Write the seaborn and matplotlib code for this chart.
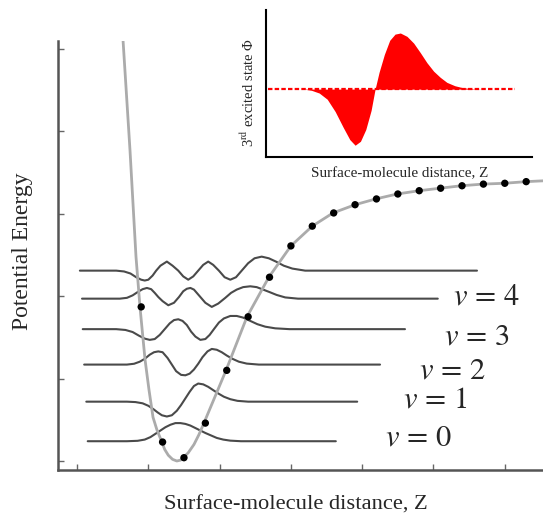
import numpy as np
import pandas as pd
import matplotlib
matplotlib.use("Agg")
import matplotlib.pyplot as plt
import seaborn as sns

# --- 포텐셜 곡선 (Morse 형태, 그림에서 읽은 점들) ---
curve_z = [1.645, 1.743, 1.827, 1.884, 1.954, 2.01, 2.066, 2.12, 2.19, 2.23, 2.28,
           2.34, 2.40, 2.45, 2.49, 2.56, 2.64, 2.71, 2.78, 3.09, 3.384, 3.69, 4.0,
           4.30, 4.59, 4.90, 5.19, 5.49, 5.80, 6.09, 6.39, 6.69, 6.99, 7.30, 7.54]
curve_e = [5.11, 3.77, 2.48, 1.86, 1.23, 0.86, 0.53, 0.38, 0.23, 0.14, 0.07,
           0.02, 0.0, 0.01, 0.04, 0.10, 0.20, 0.32, 0.46, 1.10, 1.75, 2.23, 2.61,
           2.85, 3.01, 3.11, 3.18, 3.24, 3.28, 3.31, 3.34, 3.36, 3.37, 3.39, 3.40]

# 곡선 위의 점 (검은 점)
dot_z = [1.9, 2.2, 2.5, 2.8, 3.1, 3.4, 3.7, 4.0, 4.3, 4.6, 4.9, 5.2, 5.5, 5.8,
         6.1, 6.4, 6.7, 7.0, 7.3]
dot_e = [1.87, 0.23, 0.04, 0.46, 1.10, 1.75, 2.23, 2.61, 2.85, 3.01, 3.11, 3.18,
         3.24, 3.28, 3.31, 3.34, 3.36, 3.37, 3.39]

# --- 진동 파동함수 (기준선 에너지 + 변위) ---
levels = [0.24, 0.72, 1.17, 1.60, 1.97, 2.31]
wave_z = [
    [1.15, 1.70, 1.85, 1.95, 2.03, 2.10, 2.17, 2.24, 2.31, 2.38, 2.45, 2.52, 2.59,
     2.66, 2.73, 2.80, 2.88, 2.96, 3.05, 3.15, 3.30, 4.63],
    [1.13, 1.70, 1.82, 1.92, 2.00, 2.07, 2.13, 2.19, 2.26, 2.33, 2.40, 2.46, 2.52,
     2.58, 2.64, 2.70, 2.77, 2.84, 2.91, 2.98, 3.06, 3.15, 3.25, 3.40, 4.93],
    [1.10, 1.70, 1.80, 1.88, 1.95, 2.02, 2.08, 2.14, 2.20, 2.27, 2.33, 2.39, 2.46,
     2.52, 2.58, 2.64, 2.70, 2.76, 2.83, 2.89, 2.96, 3.03, 3.10, 3.18, 3.27, 3.38,
     3.55, 5.25],
    [1.08, 1.55, 1.68, 1.78, 1.87, 1.95, 2.02, 2.09, 2.16, 2.23, 2.30, 2.36, 2.42,
     2.48, 2.54, 2.60, 2.66, 2.73, 2.80, 2.86, 2.92, 2.99, 3.06, 3.15, 3.24, 3.33,
     3.43, 3.53, 3.64, 3.78, 3.98, 5.60],
    [1.07, 1.60, 1.70, 1.78, 1.85, 1.92, 1.98, 2.04, 2.09, 2.14, 2.20, 2.28, 2.36,
     2.43, 2.49, 2.54, 2.59, 2.64, 2.69, 2.74, 2.80, 2.89, 2.98, 3.08, 3.16, 3.24,
     3.33, 3.43, 3.52, 3.61, 3.70, 3.80, 3.92, 4.10, 6.06],
    [1.04, 1.55, 1.66, 1.75, 1.83, 1.90, 1.95, 2.00, 2.06, 2.11, 2.17, 2.26, 2.34,
     2.42, 2.49, 2.56, 2.63, 2.70, 2.77, 2.84, 2.91, 2.99, 3.07, 3.15, 3.23, 3.31,
     3.40, 3.49, 3.59, 3.69, 3.79, 3.90, 4.02, 4.20, 6.61],
]
wave_psi = [
    [0, 0, 0.005, 0.02, 0.05, 0.09, 0.13, 0.17, 0.20, 0.22, 0.22, 0.21, 0.19,
     0.16, 0.13, 0.10, 0.07, 0.04, 0.02, 0.007, 0, 0],
    [0, 0, -0.005, -0.02, -0.05, -0.09, -0.13, -0.165, -0.18, -0.165, -0.11, -0.04,
     0.04, 0.12, 0.19, 0.22, 0.21, 0.18, 0.14, 0.10, 0.06, 0.03, 0.01, 0, 0],
    [0, 0, 0.01, 0.035, 0.07, 0.12, 0.15, 0.16, 0.15, 0.08, 0, -0.08, -0.125,
     -0.13, -0.11, -0.06, 0.01, 0.09, 0.16, 0.19, 0.18, 0.15, 0.11, 0.07, 0.035,
     0.012, 0, 0],
    [0, 0, -0.01, -0.035, -0.08, -0.115, -0.13, -0.12, -0.07, 0, 0.07, 0.11, 0.12,
     0.10, 0.05, -0.03, -0.09, -0.13, -0.12, -0.07, 0, 0.08, 0.13, 0.16, 0.16,
     0.14, 0.10, 0.06, 0.03, 0.01, 0, 0],
    [0, 0, 0.01, 0.04, 0.08, 0.115, 0.13, 0.115, 0.07, 0.02, -0.03, -0.08, -0.05,
     0.02, 0.09, 0.12, 0.13, 0.11, 0.06, 0.01, -0.05, -0.10, -0.06, 0.01, 0.07,
     0.11, 0.14, 0.15, 0.14, 0.11, 0.08, 0.045, 0.015, 0, 0],
    [0, 0, -0.01, -0.035, -0.08, -0.11, -0.12, -0.11, -0.06, 0, 0.06, 0.11, 0.06,
     0, -0.07, -0.11, -0.07, 0, 0.07, 0.11, 0.07, 0, -0.08, -0.11, -0.08, 0,
     0.09, 0.15, 0.17, 0.15, 0.11, 0.06, 0.025, 0, 0],
]

# v 라벨
label_text = ["$v\\,=\\,0$", "$v\\,=\\,1$", "$v\\,=\\,2$", "$v\\,=\\,3$", "$v\\,=\\,4$"]
label_z = [5.32, 5.57, 5.80, 6.15, 6.27]
label_e = [0.28, 0.74, 1.09, 1.50, 1.99]

# --- 삽입 그래프: 3번째 들뜬 상태 ---
inset_z = [0.08, 1.4, 1.7, 2.0, 2.3, 2.6, 2.9, 3.15, 3.35, 3.55, 3.75, 3.95, 4.10,
           4.25, 4.45, 4.65, 4.85, 5.05, 5.3, 5.55, 5.8, 6.05, 6.3, 6.55, 6.8,
           7.1, 7.4, 7.8, 8.2, 9.36]
inset_phi = [0, 0, -0.02, -0.07, -0.18, -0.40, -0.68, -0.90, -1.0, -0.93, -0.72,
             -0.38, 0, 0.30, 0.62, 0.87, 0.98, 1.0, 0.94, 0.82, 0.65, 0.47, 0.32,
             0.21, 0.12, 0.06, 0.025, 0.005, 0, 0]

sns.set_style("white")
plt.rcParams['font.family'] = ['Liberation Serif', 'DejaVu Serif']
plt.rcParams['mathtext.fontset'] = 'stix'

fig = plt.figure(figsize=(5.43, 5.18), dpi=100)
ax = fig.add_axes([0.1068, 0.0927, 0.8932, 0.8282])

for lv, zs, ps in zip(levels, wave_z, wave_psi):
    sns.lineplot(x=zs, y=lv + np.array(ps), ax=ax, color='#4a4a4a', lw=1.5,
                 sort=False, estimator=None, zorder=2)

sns.lineplot(x=curve_z, y=curve_e, ax=ax, color='#ababab', lw=2.0,
             sort=False, estimator=None, zorder=3)
sns.scatterplot(x=dot_z, y=dot_e, ax=ax, color='black', s=28,
                edgecolor='none', zorder=4)

for t, z, e in zip(label_text, label_z, label_e):
    ax.text(z, e, t, fontsize=22, ha='left', va='center')

ax.set_xlim(0.733, 7.536)
ax.set_ylim(-0.109, 5.097)
ax.set_xticks(range(1, 8))
ax.set_yticks(range(0, 6))
ax.set_xticklabels([])
ax.set_yticklabels([])
ax.tick_params(bottom=True, left=True, direction='in', length=4, width=1,
               color='#666666')
for s in ['top', 'right']:
    ax.spines[s].set_visible(False)
for s in ['left', 'bottom']:
    ax.spines[s].set_color('#555555')
    ax.spines[s].set_linewidth(1.8)

ax.set_xlabel("Surface-molecule distance, Z", fontsize=16.2)
ax.xaxis.set_label_coords(0.491, -0.0816)
ax.xaxis.label.set_va('center')
ax.set_ylabel("Potential Energy", fontsize=17)
ax.yaxis.set_label_coords(-0.0742, 0.5105)
ax.yaxis.label.set_va('center')

# 삽입 그래프
axin = fig.add_axes([0.4899, 0.6969, 0.4899, 0.2838])
axin.fill_between(inset_z, 0, inset_phi, color='red', lw=0)
axin.plot([inset_z[0], inset_z[-1]], [0, 0], color='red', lw=1.6,
          linestyle=(0, (2, 1)))
axin.set_xlim(0, 10)
axin.set_ylim(-1.21, 1.41)
axin.set_xticks([])
axin.set_yticks([])
for s in ['top', 'right']:
    axin.spines[s].set_visible(False)
for s in ['left', 'bottom']:
    axin.spines[s].set_color('black')
    axin.spines[s].set_linewidth(1.5)
axin.set_xlabel("Surface-molecule distance, Z", fontsize=10.9)
axin.xaxis.set_label_coords(0.502, -0.116)
axin.xaxis.label.set_va('center')
axin.set_ylabel("3$^{\\rm rd}$ excited state \u03a6", fontsize=10.5)
axin.yaxis.set_label_coords(-0.068, 0.442)
axin.yaxis.label.set_va('center')
axin.patch.set_alpha(0)

fig.savefig("out.png", dpi=100)
